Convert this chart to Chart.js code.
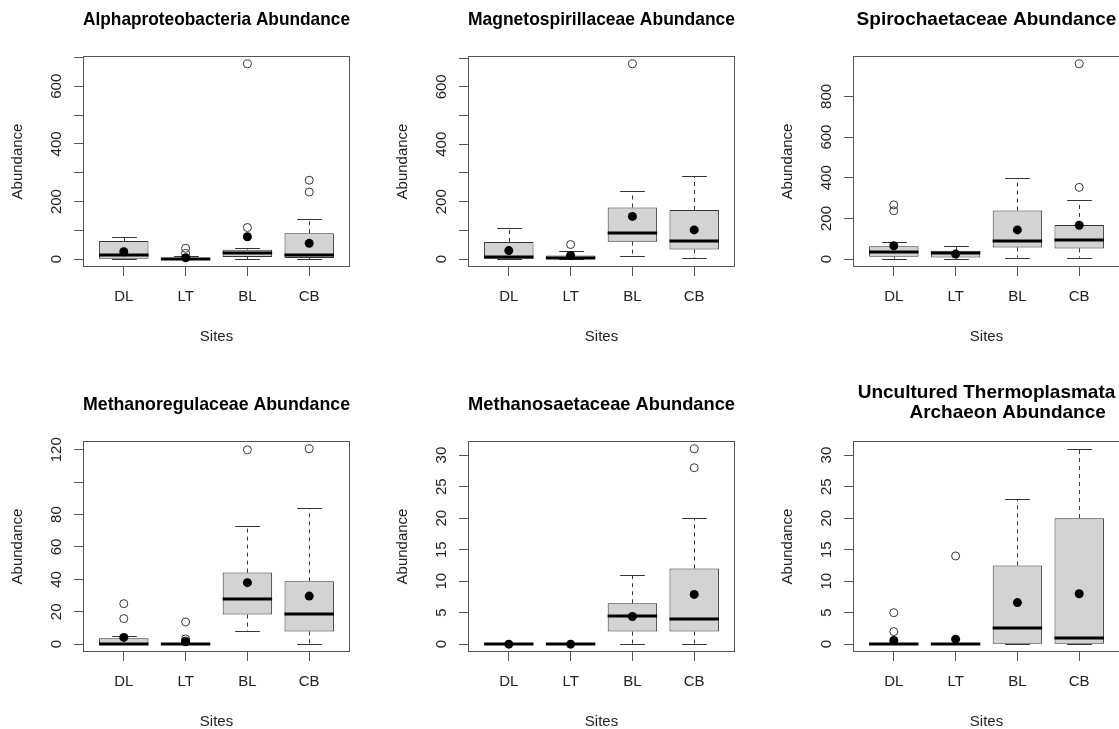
<!DOCTYPE html>
<html>
<head>
  <meta charset="utf-8">
  <title>Abundance by Site</title>
  <script src="https://cdn.jsdelivr.net/npm/chart.js"></script>
  <style>
    body {
      margin: 0;
      width: 1119px;
      height: 729px;
      overflow: hidden;
      background: #fff;
    }
    /* one R-style figure region per panel */
    .panel {
      position: absolute;
      width: 385px;
      height: 385px;
    }
  </style>
</head>
<body>
  <div class="panel" style="left:0;top:0"><canvas id="c0" width="385" height="385"></canvas></div>
  <div class="panel" style="left:385px;top:0"><canvas id="c1" width="385" height="385"></canvas></div>
  <div class="panel" style="left:770px;top:0"><canvas id="c2" width="385" height="385"></canvas></div>
  <div class="panel" style="left:0;top:385px"><canvas id="c3" width="385" height="385"></canvas></div>
  <div class="panel" style="left:385px;top:385px"><canvas id="c4" width="385" height="385"></canvas></div>
  <div class="panel" style="left:770px;top:385px"><canvas id="c5" width="385" height="385"></canvas></div>

  <script>
    const sites = ['DL', 'LT', 'BL', 'CB'];

    // box stats per site: [lower whisker, Q1, median, Q3, upper whisker]
    const alphaStats = [[0, 0, 16, 63, 77], [0, 0, 2, 5, 10], [0, 8, 22, 33, 38], [0, 4, 16, 90, 139]];
    const alphaMeans = [26, 5, 78, 55];
    const alphaOutliers = [[], [20, 38], [110, 678], [233, 274]];

    const magnetoStats = [[0, 0, 7, 60, 109], [0, 0, 5, 13, 28], [11, 61, 92, 180, 236], [3, 34, 63, 171, 288]];
    const magnetoMeans = [30, 13, 149, 102];
    const magnetoOutliers = [[], [51], [680], []];

    const spiroStats = [[3, 12, 33, 64, 83], [0, 8, 28, 41, 63], [8, 58, 89, 239, 399], [7, 53, 94, 168, 290]];
    const spiroMeans = [66, 25, 144, 167];
    const spiroOutliers = [[238, 267], [], [], [353, 960]];

    const methregStats = [[0, 0, 0, 3.7, 4.8], [0, 0, 0, 0.6, 1], [7.9, 18.3, 28, 44.2, 72.7], [0, 7.9, 18.9, 38.8, 83.9]];
    const methregMeans = [4.2, 1.5, 38, 29.7];
    const methregOutliers = [[15.8, 25], [2, 3.3, 13.7], [120], [120.6]];

    const methsaetStats = [[0, 0, 0, 0, 0], [0, 0, 0, 0, 0], [0, 2, 4.5, 6.5, 11], [0, 2, 4, 12, 20]];
    const methsaetMeans = [0, 0, 4.4, 7.9];
    const methsaetOutliers = [[], [], [], [28, 31]];

    const thermoStats = [[0, 0, 0, 0, 0], [0, 0, 0, 0, 0], [0, 0, 2.5, 12.5, 23], [0, 0, 1, 20, 31]];
    const thermoMeans = [0.6, 0.8, 6.6, 8];
    const thermoOutliers = [[2, 5], [14], [], []];

    // y tick values and their labels (R drops labels that would collide)
    const ticks700 = [0, 100, 200, 300, 400, 500, 600, 700];
    const ticks700Labels = ['0', '', '200', '', '400', '', '600', ''];
    const ticks800 = [0, 200, 400, 600, 800];
    const ticks800Labels = ['0', '200', '400', '600', '800'];
    const ticks120 = [0, 20, 40, 60, 80, 100, 120];
    const ticks120Labels = ['0', '20', '40', '60', '80', '', '120'];
    const ticks30 = [0, 5, 10, 15, 20, 25, 30];
    const ticks30Labels = ['0', '5', '10', '15', '20', '25', '30'];

    const panels = [
      { title: 'Alphaproteobacteria Abundance', stats: alphaStats, means: alphaMeans, outliers: alphaOutliers, ticks: ticks700, labels: ticks700Labels },
      { title: 'Magnetospirillaceae Abundance', stats: magnetoStats, means: magnetoMeans, outliers: magnetoOutliers, ticks: ticks700, labels: ticks700Labels },
      { title: 'Spirochaetaceae Abundance', stats: spiroStats, means: spiroMeans, outliers: spiroOutliers, ticks: ticks800, labels: ticks800Labels },
      { title: 'Methanoregulaceae Abundance', stats: methregStats, means: methregMeans, outliers: methregOutliers, ticks: ticks120, labels: ticks120Labels },
      { title: 'Methanosaetaceae Abundance', stats: methsaetStats, means: methsaetMeans, outliers: methsaetOutliers, ticks: ticks30, labels: ticks30Labels },
      { title: ['Uncultured Thermoplasmata', '        Archaeon Abundance'], stats: thermoStats, means: thermoMeans, outliers: thermoOutliers, ticks: ticks30, labels: ticks30Labels }
    ];

    const FONT = "'Liberation Sans', Arial, sans-serif";
    const BOX_HALF = 0.4;     // boxwex 0.8
    const STAPLE_HALF = 0.2;  // staplewex 0.5

    // R pads the data range by 4% on each side
    function yRange(p) {
      const vals = p.stats.flat().concat(p.outliers.flat(), p.means);
      const lo = Math.min(...vals), hi = Math.max(...vals);
      const pad = (hi - lo) * 0.04;
      return [lo - pad, hi + pad];
    }

    // whiskers, staples, medians and the plot frame, placed through the chart scales
    function boxPlugin(p) {
      return {
        id: 'boxExtras',
        beforeDatasetsDraw(chart) {
          const { ctx, scales: { x, y } } = chart;
          const sw = x.getPixelForValue(1 + STAPLE_HALF) - x.getPixelForValue(1);
          ctx.save();
          ctx.strokeStyle = '#333';
          ctx.lineWidth = 1;
          p.stats.forEach((s, i) => {
            const px = Math.round(x.getPixelForValue(i + 1)) + 0.5;
            ctx.setLineDash([4, 4]);
            ctx.beginPath();
            ctx.moveTo(px, y.getPixelForValue(s[3]));
            ctx.lineTo(px, y.getPixelForValue(s[4]));
            ctx.moveTo(px, y.getPixelForValue(s[1]));
            ctx.lineTo(px, y.getPixelForValue(s[0]));
            ctx.stroke();
            ctx.setLineDash([]);
            ctx.beginPath();
            [s[0], s[4]].forEach(v => {
              const py = Math.round(y.getPixelForValue(v)) + 0.5;
              ctx.moveTo(px - sw, py);
              ctx.lineTo(px + sw, py);
            });
            ctx.stroke();
          });
          ctx.restore();
        },
        afterDatasetDraw(chart, args) {
          if (args.meta.type !== 'bar') return;
          const { ctx, scales: { x, y } } = chart;
          ctx.save();
          ctx.strokeStyle = '#000';
          ctx.lineWidth = 3;
          ctx.beginPath();
          p.stats.forEach((s, i) => {
            const py = Math.round(y.getPixelForValue(s[2]));
            ctx.moveTo(x.getPixelForValue(i + 1 - BOX_HALF), py);
            ctx.lineTo(x.getPixelForValue(i + 1 + BOX_HALF), py);
          });
          ctx.stroke();
          ctx.restore();
        },
        afterDraw(chart) {
          const { ctx, chartArea: a } = chart;
          ctx.save();
          ctx.strokeStyle = '#555';
          ctx.lineWidth = 1;
          ctx.strokeRect(Math.round(a.left) + 0.5, Math.round(a.top) + 0.5,
            Math.round(a.right - a.left) - 1, Math.round(a.bottom - a.top) - 1);
          ctx.restore();
        }
      };
    }

    panels.forEach((p, n) => {
      const [ymin, ymax] = yRange(p);
      const twoLine = Array.isArray(p.title);
      const widest = Math.max(...p.labels.map(l => l.length)) * 8.34;

      new Chart(document.getElementById('c' + n), {
        type: 'bar',
        data: {
          datasets: [
            {
              type: 'scatter',
              order: 0,
              data: p.means.map((m, i) => ({ x: i + 1, y: m })),
              pointRadius: 4.5,
              pointBackgroundColor: '#000',
              pointBorderWidth: 0
            },
            {
              type: 'scatter',
              order: 1,
              data: p.outliers.flatMap((o, i) => o.map(v => ({ x: i + 1, y: v }))),
              pointRadius: 4,
              pointBackgroundColor: 'rgba(0,0,0,0)',
              pointBorderColor: '#333',
              pointBorderWidth: 1
            },
            {
              type: 'bar',
              order: 2,
              data: p.stats.map((s, i) => ({ x: i + 1, y: [s[1], s[3]] })),
              backgroundColor: '#d3d3d3',
              borderColor: '#333',
              borderWidth: 1,
              borderSkipped: false,
              categoryPercentage: 1,
              barPercentage: 0.8
            }
          ]
        },
        options: {
          responsive: false,
          animation: false,
          events: [],
          layout: { padding: { left: 0, right: 35, top: 0, bottom: 0 } },
          plugins: {
            legend: { display: false },
            tooltip: { enabled: false },
            title: {
              display: true,
              text: p.title,
              fullSize: false,
              color: '#000',
              font: { family: FONT, size: 19, weight: 'bold', lineHeight: '20px' },
              padding: twoLine ? { top: -2, bottom: 18 } : { top: 10, bottom: 26 }
            }
          },
          scales: {
            x: {
              type: 'linear',
              min: 0.34,
              max: 4.66,
              offset: false,
              afterBuildTicks: s => { s.ticks = [1, 2, 3, 4].map(v => ({ value: v })); },
              afterFit: s => { s.height = 118; },
              ticks: {
                callback: v => sites[v - 1],
                autoSkip: false,
                maxRotation: 0,
                padding: 12,
                color: '#222',
                font: { family: FONT, size: 15 }
              },
              grid: { display: true, offset: false, drawOnChartArea: false, drawTicks: true, tickLength: 9, color: '#555' },
              border: { display: false },
              title: {
                display: true,
                text: 'Sites',
                color: '#222',
                font: { family: FONT, size: 15 },
                padding: { top: 0, bottom: 39 }
              }
            },
            y: {
              type: 'linear',
              min: ymin,
              max: ymax,
              afterBuildTicks: s => { s.ticks = p.ticks.map(v => ({ value: v })); },
              afterFit: s => { s.width = 83; },
              ticks: {
                callback: (v, i) => p.labels[i],
                autoSkip: false,
                minRotation: 90,
                maxRotation: 90,
                crossAlign: 'center',
                padding: 17 - widest / 2,
                color: '#222',
                font: { family: FONT, size: 15 }
              },
              grid: { display: true, drawOnChartArea: false, drawTicks: true, tickLength: 9, color: '#555' },
              border: { display: false },
              title: {
                display: true,
                text: 'Abundance',
                color: '#222',
                font: { family: FONT, size: 15 },
                padding: { top: 9, bottom: 0 }
              }
            }
          }
        },
        plugins: [boxPlugin(p)]
      });
    });
  </script>
</body>
</html>
